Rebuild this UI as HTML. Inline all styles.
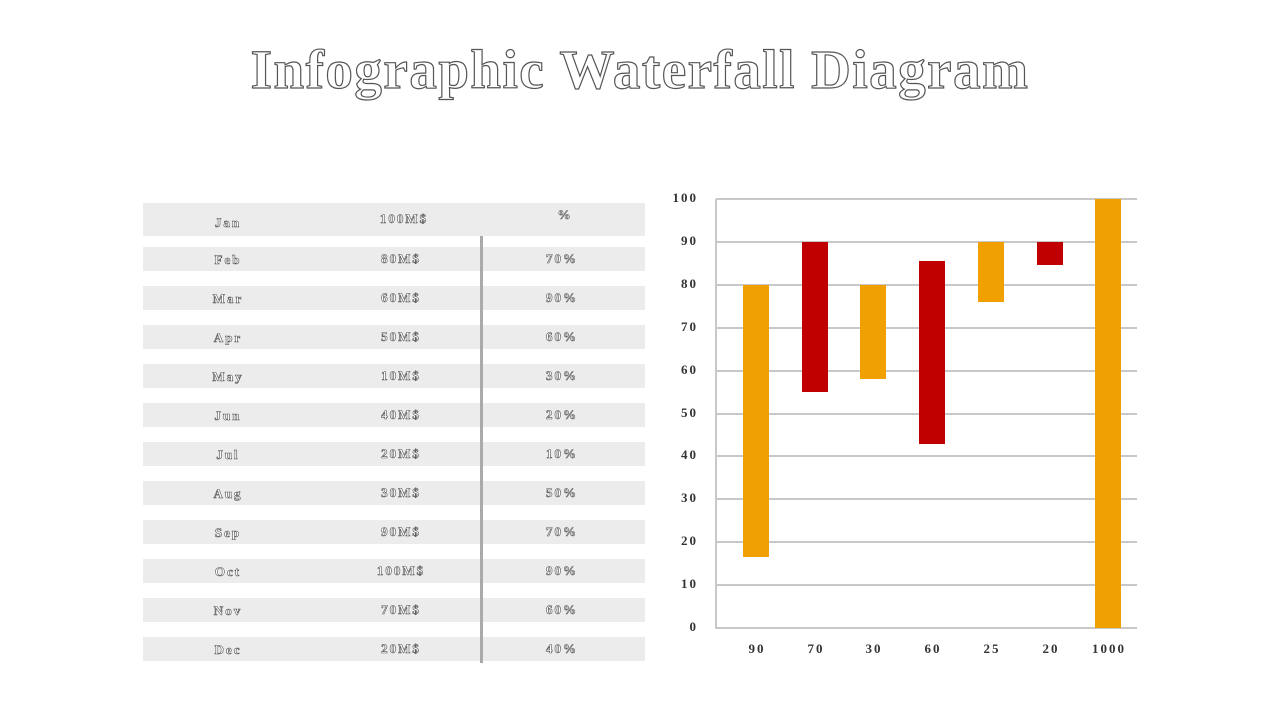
<!DOCTYPE html><html><head><style>
body{margin:0;width:1280px;height:720px;background:#fff;position:relative;overflow:hidden;font-family:"Liberation Serif",serif}
.t{position:absolute;left:0;width:1280px;top:38px;text-align:center;font-size:55px;font-weight:bold;color:#fff;-webkit-text-stroke:1.2px #555;letter-spacing:1.5px}
.r{position:absolute;left:143px;width:502px;background:#ececec}
.c{position:absolute;font-size:13px;font-weight:bold;color:#fff;-webkit-text-stroke:0.6px #555;transform:translateX(-50%);letter-spacing:2px;white-space:nowrap}
.yl{position:absolute;width:40px;text-align:right;left:658px;font-size:13px;font-weight:bold;color:#333;letter-spacing:2px}
.xl{position:absolute;top:641px;font-size:13px;font-weight:bold;color:#333;letter-spacing:2px;transform:translateX(-50%)}
.g{position:absolute;left:716px;width:421px;height:2px;background:#c8c8c8}
.b{position:absolute;width:26px}
</style></head><body>
<div class="t">Infographic Waterfall Diagram</div>
<div class="r" style="top:203px;height:33px"></div>
<div class="c" style="left:228px;top:215px">Jan</div><div class="c" style="left:404px;top:211px">100M$</div><div class="c" style="left:565px;top:207px">%</div>
<script>
var d=[["Feb","80M$","70%"],["Mar","60M$","90%"],["Apr","50M$","60%"],["May","10M$","30%"],["Jun","40M$","20%"],["Jul","20M$","10%"],["Aug","30M$","50%"],["Sep","90M$","70%"],["Oct","100M$","90%"],["Nov","70M$","60%"],["Dec","20M$","40%"]];
var h="";d.forEach(function(e,i){var y=247+i*39;h+='<div class="r" style="top:'+y+'px;height:24px"></div><div class="c" style="left:228px;top:'+(y+5)+'px">'+e[0]+'</div><div class="c" style="left:401px;top:'+(y+4)+'px">'+e[1]+'</div><div class="c" style="left:562px;top:'+(y+4)+'px">'+e[2]+'</div>';});
h+='<div style="position:absolute;left:480px;top:236px;width:3px;height:427px;background:#aaa"></div>';
for(var k=0;k<=10;k++){var y=628-k*42.9;h+='<div class="g" style="top:'+(y-1)+'px"></div><div class="yl" style="top:'+(y-9)+'px">'+(k*10)+'</div>';}
h+='<div style="position:absolute;left:715px;top:199px;width:2px;height:430px;background:#c8c8c8"></div>';
var bars=[[756,80,16.5,"#f0a000"],[815,90,55,"#c00000"],[873,80,58,"#f0a000"],[932,85.5,43,"#c00000"],[991,90,76,"#f0a000"],[1050,90,84.5,"#c00000"],[1108,100,0,"#f0a000"]];
var xl=["90","70","30","60","25","20","1000"];
bars.forEach(function(b,i){var t=628-b[1]*4.29,bt=628-b[2]*4.29;h+='<div class="b" style="left:'+(b[0]-13)+'px;top:'+t+'px;height:'+(bt-t)+'px;background:'+b[3]+'"></div><div class="xl" style="left:'+(b[0]+1)+'px">'+xl[i]+'</div>';});
document.write(h);
</script>
</body></html>
